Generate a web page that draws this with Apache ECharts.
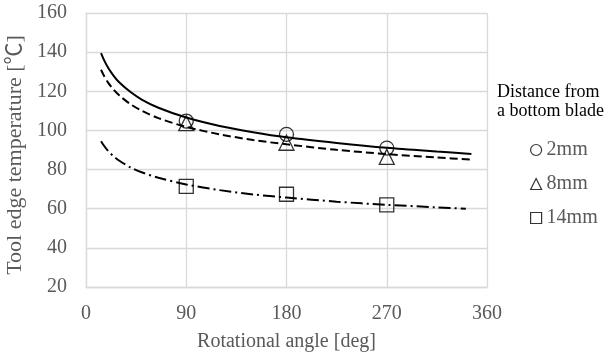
<!DOCTYPE html>
<html>
<head>
<meta charset="utf-8">
<script src="https://cdn.jsdelivr.net/npm/echarts@6/dist/echarts.min.js"></script>
<style>
  html, body { margin: 0; padding: 0; background: #fff; }
  #main { width: 608px; height: 358px; }
</style>
</head>
<body>
<div id="main"></div>
<script>
// fitted curves
const curveX = [13.5, 16, 20, 25, 30, 40, 50, 65, 90, 120, 150, 180, 225, 270, 315, 346]
const fit2mm = [139.5, 136.2, 131.9, 127.8, 124.5, 119.6, 115.8, 111.6, 106.6, 102.3, 99.1, 96.5, 93.6, 91.1, 89.2, 88]
const fit8mm = [131, 128.1, 124.3, 120.7, 117.8, 113.4, 110.1, 106.3, 101.8, 98, 95.1, 92.9, 90.1, 87.9, 86.2, 85.1]
const fit14mmX = [13.5, 16, 20, 25, 30, 40, 50, 65, 90, 120, 150, 180, 225, 270, 315, 341]
const fit14mm = [94.5, 92.3, 89.4, 86.7, 84.5, 81.1, 78.6, 75.8, 72.4, 69.5, 67.3, 65.7, 63.6, 62, 60.7, 60]

// measured points
const angles = [90, 180, 270]
const meas2mm = [104.8, 98, 91]
const meas8mm = [103.7, 93.7, 86.5]
const meas14mm = [71.4, 67.4, 62]

const xTicks = [0, 90, 180, 270, 360]

const font = '"Liberation Serif", "Times New Roman", "Noto Sans CJK JP", serif'
const pair = (xs, ys) => xs.map((x, i) => [x, ys[i]])

let myChart = echarts.init(document.getElementById('main'))
const hollow = {
  color: 'rgba(255,255,255,0)',
  borderColor: '#000',
  borderWidth: 1.3
}
const lineSeries = (name, xs, ys, type) => ({
  name: name,
  type: 'line',
  smooth: 0.3,
  showSymbol: false,
  silent: true,
  data: pair(xs, ys),
  lineStyle: { color: '#000', width: 2, type: type },
  z: 2
})
const markSeries = (name, ys, symbol, size) => ({
  name: name,
  type: 'scatter',
  symbol: symbol,
  symbolSize: size,
  data: pair(angles, ys),
  itemStyle: hollow,
  z: 3
})

myChart.setOption({
  animation: false,
  title: {
    text: 'Distance from\na bottom blade',
    left: 492,
    top: 78,
    textStyle: {
      fontFamily: font,
      fontSize: 18,
      fontWeight: 'normal',
      color: '#000',
      lineHeight: 19
    }
  },
  legend: {
    data: ['2mm', '8mm', '14mm'],
    orient: 'vertical',
    left: 530,
    top: 140,
    padding: 0,
    itemWidth: 11,
    itemHeight: 11,
    itemGap: 14,
    itemStyle: { color: 'rgba(255,255,255,0)', borderColor: '#000', borderWidth: 1.2 },
    textStyle: { fontFamily: font, fontSize: 20, color: '#595959', lineHeight: 20 }
  },
  grid: {
    left: 86,
    right: 121,
    top: 13,
    bottom: 71,
    outerBoundsMode: 'none'
  },
  xAxis: {
    type: 'value',
    min: xTicks[0],
    max: xTicks[xTicks.length - 1],
    interval: 90,
    name: 'Rotational angle [deg]',
    nameLocation: 'middle',
    nameGap: 45,
    nameTextStyle: { fontFamily: font, fontSize: 20, color: '#595959' },
    axisLine: { lineStyle: { color: '#d9d9d9', width: 1.3 } },
    axisTick: { show: false },
    axisLabel: { fontFamily: font, fontSize: 20, color: '#595959', margin: 17 },
    splitLine: { lineStyle: { color: '#d9d9d9', width: 1.3 } }
  },
  yAxis: {
    type: 'value',
    min: 20,
    max: 160,
    interval: 20,
    name: 'Tool edge temperature [℃]',
    nameLocation: 'middle',
    nameGap: 58,
    nameTextStyle: { fontFamily: font, fontSize: 22, color: '#595959', padding: [0, 10, 0, 0] },
    axisLine: { show: true, lineStyle: { color: '#d9d9d9', width: 1.3 } },
    axisTick: { show: false },
    axisLabel: { fontFamily: font, fontSize: 20, color: '#595959', margin: 19 },
    splitLine: { lineStyle: { color: '#d9d9d9', width: 1.3 } }
  },
  series: [
    lineSeries('fit2', curveX, fit2mm, 'solid'),
    lineSeries('fit8', curveX, fit8mm, [8, 4]),
    lineSeries('fit14', fit14mmX, fit14mm, [12, 4, 2, 4]),
    markSeries('2mm', meas2mm, 'circle', 14),
    markSeries('8mm', meas8mm, 'triangle', 15),
    markSeries('14mm', meas14mm, 'rect', 14)
  ]
})
</script>
</body>
</html>
